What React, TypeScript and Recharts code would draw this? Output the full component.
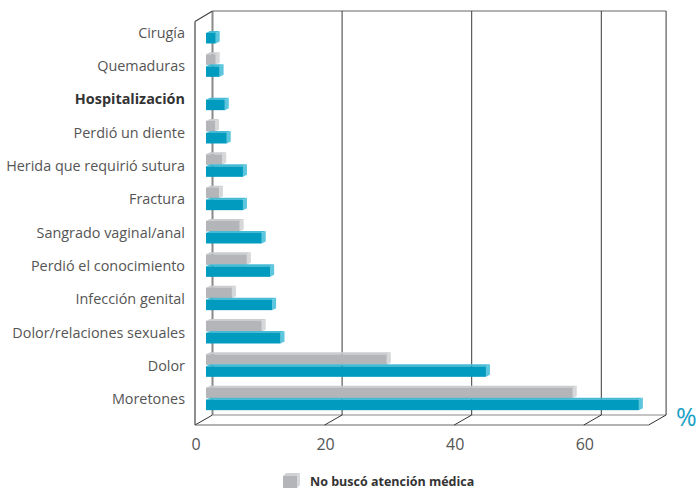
import { BarChart, Bar, XAxis, YAxis, CartesianGrid, Legend } from 'recharts'

const categories = [
  'Cirugía',
  'Quemaduras',
  'Hospitalización',
  'Perdió un diente',
  'Herida que requirió sutura',
  'Fractura',
  'Sangrado vaginal/anal',
  'Perdió el conocimiento',
  'Infección genital',
  'Dolor/relaciones sexuales',
  'Dolor',
  'Moretones',
]

// gris: no buscó atención médica
const noBusco = [null, 1.5, null, 1.4, 2.5, 2.0, 5.2, 6.3, 4.0, 8.6, 27.9, 56.6]
// azul: buscó atención médica
const busco = [1.5, 2.1, 2.9, 3.2, 5.7, 5.7, 8.6, 9.9, 10.2, 11.5, 43.2, 66.8]

const valueTicks = [0, 20, 40, 60, 70]

const FONT = '"Open Sans", sans-serif'

// 3d box offsets relative to the bar plane
const FRONT_DX = -11
const BACK_DX = 6.5

interface BoxProps {
  front: string
  side: string
  top: string
  x?: number
  y?: number
  width?: number
  height?: number
}

function Bar3D({ x = 0, y = 0, width = 0, height = 0, front, side, top }: BoxProps) {
  if (!width || width <= 0) return null
  const dx = 4
  const dy = 2
  return (
    <g>
      <polygon points={`${x},${y} ${x + dx},${y - dy} ${x + width + dx},${y - dy} ${x + width},${y}`} fill={top} />
      <polygon
        points={`${x + width},${y} ${x + width + dx},${y - dy} ${x + width + dx},${y + height - dy} ${x + width},${y + height}`}
        fill={side}
      />
      <rect x={x} y={y} width={width} height={height} fill={front} />
    </g>
  )
}

function GridLine(props: any) {
  const { x1, y1, y2 } = props
  const left = typeof props.x === 'number' ? props.x : 206
  const w = typeof props.width === 'number' ? props.width : 453.6
  const backX = x1 + BACK_DX
  const frontX = x1 + FRONT_DX
  const backTop = y1 - 5
  const backBottom = y2 - 1
  const frontTop = y1 + 5.5
  const frontBottom = y2 + 9
  const isLeft = Math.abs(x1 - left) < 0.5
  return (
    <g key={props.key}>
      <line
        x1={backX}
        y1={backTop}
        x2={backX}
        y2={backBottom}
        stroke={isLeft ? '#8a8a8a' : '#3a3a3a'}
        strokeWidth={isLeft ? 2 : 1}
      />
      <line x1={frontX} y1={frontBottom} x2={backX} y2={backBottom} stroke="#333" strokeWidth={1} />
      {isLeft && (
        <g>
          <line x1={frontX} y1={frontTop} x2={frontX} y2={frontBottom} stroke="#444" strokeWidth={1.2} />
          <line x1={frontX} y1={frontTop} x2={backX} y2={backTop} stroke="#444" strokeWidth={1.2} />
          <line x1={backX} y1={backTop} x2={backX + w} y2={backTop} stroke="#666" strokeWidth={1.2} />
          <line x1={frontX} y1={frontBottom} x2={frontX + w} y2={frontBottom} stroke="#666" strokeWidth={1.2} />
          <line x1={backX} y1={backBottom} x2={backX + w} y2={backBottom} stroke="#888" strokeWidth={1} />
        </g>
      )}
    </g>
  )
}

function ValueTick(props: any) {
  const { x, y, payload } = props
  if (payload.value === 70) {
    return (
      <text x={x + 16.5} y={y + 2} fill="#1aa0c6" fontSize={25} fontFamily={FONT}>
        %
      </text>
    )
  }
  return (
    <text x={x + FRONT_DX + 1} y={y + 26} textAnchor="middle" fill="#555" fontSize={16} fontFamily={FONT}>
      {payload.value}
    </text>
  )
}

function CategoryTick(props: any) {
  const { x, y, payload } = props
  const bold = payload.value === 'Hospitalización'
  return (
    <text
      x={x}
      y={y + 5}
      textAnchor="end"
      fill={bold ? '#333' : '#555'}
      fontWeight={bold ? 700 : 400}
      fontSize={14.4}
      fontFamily={FONT}
    >
      {payload.value}
    </text>
  )
}

function LegendContent() {
  return (
    <svg width={200} height={18}>
      <polygon points="3,4 6,1 20,1 17,4" fill="#d0d1d3" />
      <polygon points="17,4 20,1 20,13 17,16" fill="#d6d7d9" />
      <rect x={3} y={4} width={14} height={12} fill="#b4b5b8" />
      <text x={30} y={14} fontSize={12.5} fontWeight={700} fill="#333" fontFamily={FONT}>
        No buscó atención médica
      </text>
    </svg>
  )
}

export default function App() {
  const data = categories.map((name, i) => ({
    name,
    noBusco: noBusco[i],
    busco: busco[i],
  }))

  return (
    <div style={{ position: 'absolute', left: 0, top: 0, width: 697, height: 492, background: '#fff' }}>
      <BarChart
        width={697}
        height={492}
        data={data}
        layout="vertical"
        margin={{ top: 16, right: 37.4, bottom: 46, left: 0 }}
        barSize={10.5}
        barGap={1.5}
      >
        <CartesianGrid horizontal={false} vertical={(p: any) => <GridLine {...p} />} />
        <XAxis
          type="number"
          domain={[0, 70]}
          ticks={valueTicks}
          interval={0}
          axisLine={false}
          tickLine={false}
          height={30}
          tick={<ValueTick />}
        />
        <YAxis
          type="category"
          dataKey="name"
          width={206}
          interval={0}
          axisLine={false}
          tickLine={false}
          tickMargin={15}
          tick={<CategoryTick />}
        />
        <Legend
          verticalAlign="middle"
          align="center"
          layout="horizontal"
          wrapperStyle={{ left: 280, top: 472, width: 200, height: 18 }}
          content={() => <LegendContent />}
        />
        <Bar
          dataKey="noBusco"
          name="No buscó atención médica"
          isAnimationActive={false}
          shape={(p: any) => <Bar3D {...p} front="#b4b5b8" side="#d6d7d9" top="#cbcccf" />}
        />
        <Bar
          dataKey="busco"
          name="Buscó atención médica"
          isAnimationActive={false}
          shape={(p: any) => <Bar3D {...p} front="#009bbe" side="#5cc6df" top="#46bbd6" />}
        />
      </BarChart>
    </div>
  )
}
